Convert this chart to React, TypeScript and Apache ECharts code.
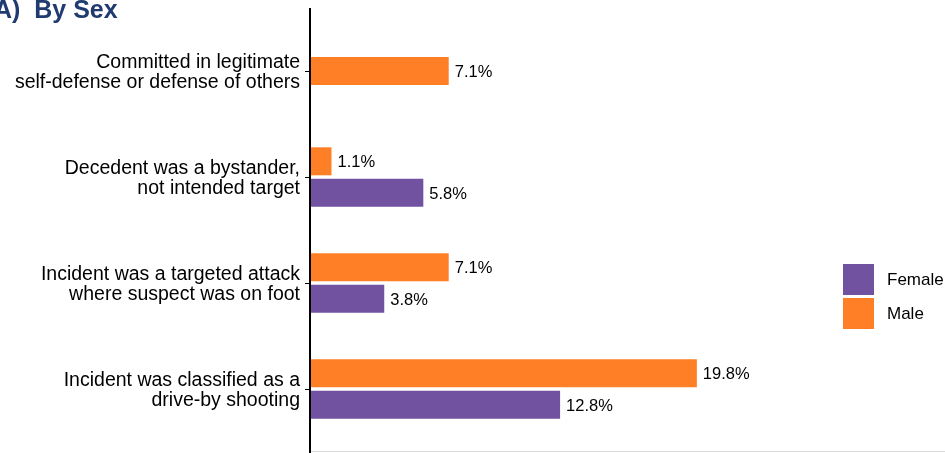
import React, { useEffect, useRef } from "react";
import * as echarts from "echarts";

const categories = [
  "Committed in legitimate\nself-defense or defense of others",
  "Decedent was a bystander,\nnot intended target",
  "Incident was a targeted attack\nwhere suspect was on foot",
  "Incident was classified as a\ndrive-by shooting",
];
const maleValues: (number | null)[] = [null, 1.1, 7.1, 19.8];
const femaleValues: (number | null)[] = [null, 5.8, 3.8, 12.8];
const maleSingleValues: (number | null)[] = [7.1, null, null, null];

const ORANGE = "#FF7F27";
const PURPLE = "#7052A0";

export default function App() {
  const ref = useRef<HTMLDivElement>(null);
  useEffect(() => {
    if (!ref.current) return;
    const chart = echarts.init(ref.current, null, { renderer: "svg" });
    const label = {
      show: true,
      position: "right" as const,
      distance: 6,
      fontSize: 16.5,
      color: "#000",
      fontFamily: "Liberation Sans, Arial, sans-serif",
      formatter: (p: any) => p.value.toFixed(1) + "%",
    };
    chart.setOption({
      animation: false,
      textStyle: { fontFamily: "Liberation Sans, Arial, sans-serif" },
      grid: [
        { left: 310, top: 18, height: 424, right: 0 },
        { left: 310, top: 18, height: 424, right: 0 },
      ],
      xAxis: [
        { type: "value", min: 0, max: 32.5, show: false, gridIndex: 0 },
        { type: "value", min: 0, max: 32.5, show: false, gridIndex: 1 },
      ],
      yAxis: [
        {
          type: "category",
          data: categories,
          inverse: true,
          gridIndex: 0,
          axisLine: { show: false },
          axisTick: { show: true, alignWithLabel: true, length: 5, lineStyle: { color: "#000", width: 1 } },
          axisLabel: { fontSize: 19.5, lineHeight: 20, color: "#000", margin: 10 },
          splitLine: { show: false },
        },
        {
          type: "category",
          data: categories,
          inverse: true,
          gridIndex: 1,
          show: false,
        },
      ],
      legend: {
        orient: "vertical",
        left: 843,
        top: 264,
        padding: 0,
        itemWidth: 31,
        itemHeight: 31,
        itemGap: 3,
        icon: "rect",
        data: ["Female", "Male"],
        textStyle: { fontSize: 17, color: "#000", padding: [0, 0, 0, 8] },
      },
      series: [
        {
          name: "Male",
          type: "bar",
          data: maleValues,
          barWidth: 28,
          barGap: "12%",
          xAxisIndex: 0,
          yAxisIndex: 0,
          itemStyle: { color: ORANGE },
          label,
        },
        {
          name: "Female",
          type: "bar",
          data: femaleValues,
          barWidth: 28,
          barGap: "12%",
          xAxisIndex: 0,
          yAxisIndex: 0,
          itemStyle: { color: PURPLE },
          label,
        },
        {
          name: "Male",
          type: "bar",
          data: maleSingleValues,
          barWidth: 28,
          xAxisIndex: 1,
          yAxisIndex: 1,
          itemStyle: { color: ORANGE },
          label,
        },
      ],
      graphic: [
        {
          type: "line",
          shape: { x1: 310, y1: 8, x2: 310, y2: 453 },
          style: { stroke: "#000", lineWidth: 2 },
          z: 10,
        },
        {
          type: "line",
          shape: { x1: 311, y1: 451.5, x2: 945, y2: 451.5 },
          style: { stroke: "#d9d9d9", lineWidth: 1 },
        },
        {
          type: "text",
          x: -6,
          y: -4,
          style: {
            text: "A)  By Sex",
            fontSize: 25,
            fontWeight: "bold",
            fill: "#203B70",
            fontFamily: "Liberation Sans, Arial, sans-serif",
          },
        },
      ],
    });
    return () => chart.dispose();
  }, []);
  return <div ref={ref} style={{ width: 945, height: 453, position: "fixed", left: 0, top: 0 }} />;
}
